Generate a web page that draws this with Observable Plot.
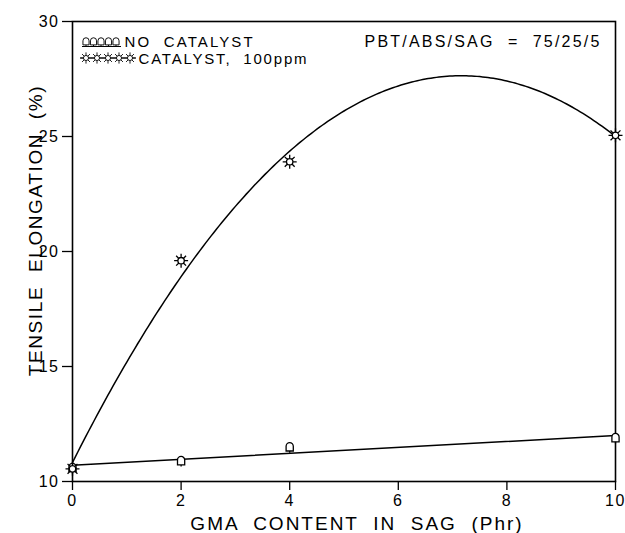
<!DOCTYPE html>
<html>
<head>
<meta charset="utf-8">
<script src="https://cdn.jsdelivr.net/npm/d3@7"></script>
<script src="https://cdn.jsdelivr.net/npm/@observablehq/plot@0.6"></script>
<style>
  body { margin: 0; background: #fff; }
  #chart { width: 625px; height: 533px; }
</style>
</head>
<body>
<div id="chart"></div>
<script>
// GMA content in SAG (phr) and measured tensile elongation (%)
const gmaContent = [0, 2, 4, 10];
const noCatalyst = [10.6, 10.9, 11.5, 11.9];
const catalyst100 = [10.55, 19.6, 23.9, 25.05];

const xTicks = [0, 2, 4, 6, 8, 10];
const yTicks = [10, 15, 20, 25, 30];

const seriesNames = ["NO  CATALYST", "CATALYST,  100ppm"];
const blendNote = "PBT/ABS/SAG  =  75/25/5";
const xTitle = "GMA  CONTENT  IN  SAG  (Phr)";
const yTitle = "TENSILE  ELONGATION  (%)";

const rowsNo = gmaContent.map((x, i) => ({ x, y: noCatalyst[i] }));
const rowsCat = gmaContent.map((x, i) => ({ x, y: catalyst100[i] }));

// least-squares quadratic through the catalyst points
function quadFit(xs, ys) {
  const S = [0, 0, 0, 0, 0], T = [0, 0, 0];
  xs.forEach((x, i) => {
    let p = 1;
    for (let k = 0; k < 5; k++) {
      S[k] += p;
      if (k < 3) T[k] += p * ys[i];
      p *= x;
    }
  });
  const A = [
    [S[0], S[1], S[2], T[0]],
    [S[1], S[2], S[3], T[1]],
    [S[2], S[3], S[4], T[2]]
  ];
  for (let i = 0; i < 3; i++)
    for (let j = i + 1; j < 3; j++) {
      const f = A[j][i] / A[i][i];
      for (let k = i; k < 4; k++) A[j][k] -= f * A[i][k];
    }
  const c = [0, 0, 0];
  for (let i = 2; i >= 0; i--) {
    let s = A[i][3];
    for (let k = i + 1; k < 3; k++) s -= A[i][k] * c[k];
    c[i] = s / A[i][i];
  }
  return c;
}
const coef = quadFit(gmaContent, catalyst100);
const [x0, x1] = d3.extent(gmaContent);
const catalystCurve = d3.range(x0, x1 + 1e-9, (x1 - x0) / 200)
  .map(x => ({ x, y: coef[0] + coef[1] * x + coef[2] * x * x }));

// marker shapes: a small arch for the uncatalysed series, a rayed sun for the catalysed one
const archSymbol = {
  draw(ctx) {
    const w = 3.6;
    ctx.moveTo(-w, 4);
    ctx.lineTo(-w, -0.8);
    ctx.arc(0, -0.8, w, Math.PI, 0);
    ctx.lineTo(w, 4);
    ctx.closePath();
    ctx.moveTo(0, 4);
    ctx.lineTo(0, 5.8);
  }
};
const sunSymbol = {
  draw(ctx) {
    const r = 3.2, R = 7;
    ctx.moveTo(r, 0);
    ctx.arc(0, 0, r, 0, 2 * Math.PI);
    for (let k = 0; k < 8; k++) {
      const a = k * Math.PI / 4;
      ctx.moveTo(Math.cos(a) * r, Math.sin(a) * r);
      ctx.lineTo(Math.cos(a) * R, Math.sin(a) * R);
    }
  }
};

const font = "'Liberation Sans', Arial, sans-serif";

const chart = Plot.plot({
  width: 625,
  height: 533,
  marginLeft: 72,
  marginRight: 10,
  marginTop: 21,
  marginBottom: 52,
  style: { fontFamily: font, fontSize: "16px", color: "#000", background: "#fff", overflow: "visible" },
  x: { domain: [0, 10] },
  y: { domain: [10, 30] },
  marks: [
    Plot.frame({ stroke: "#000", strokeWidth: 1.6 }),
    Plot.axisX({ ticks: xTicks, tickSize: 9, tickPadding: 4, label: null, stroke: "#000", strokeWidth: 1.3, fontSize: 16 }),
    Plot.axisY({ ticks: yTicks, tickSize: 10, tickPadding: 3, label: null, stroke: "#000", strokeWidth: 1.3, fontSize: 16 }),
    Plot.text([xTitle], {
      frameAnchor: "bottom", textAnchor: "middle", lineAnchor: "middle",
      dx: 13, dy: 42, fontSize: 19, fill: "#000"
    }),
    Plot.text([yTitle], {
      frameAnchor: "left", textAnchor: "middle", lineAnchor: "middle",
      dx: -37, dy: -21, rotate: -90, fontSize: 19, fill: "#000"
    }),
    Plot.linearRegressionY(rowsNo, { x: "x", y: "y", ci: 0, stroke: "#000", strokeWidth: 1.5 }),
    Plot.line(catalystCurve, { x: "x", y: "y", stroke: "#000", strokeWidth: 1.5 }),
    Plot.dot(rowsNo, { x: "x", y: "y", symbol: archSymbol, fill: "#fff", stroke: "#000", strokeWidth: 1.3 }),
    Plot.dot(rowsCat, { x: "x", y: "y", symbol: sunSymbol, fill: "#fff", stroke: "#000", strokeWidth: 1.3 }),
    Plot.text([seriesNames[0]], {
      frameAnchor: "top-left", textAnchor: "start", lineAnchor: "middle",
      dx: 52, dy: 20.5, fontSize: 15, fill: "#000"
    }),
    Plot.text([seriesNames[1]], {
      frameAnchor: "top-left", textAnchor: "start", lineAnchor: "middle",
      dx: 66, dy: 37.5, fontSize: 15, fill: "#000"
    }),
    Plot.text([blendNote], {
      frameAnchor: "top-right", textAnchor: "end", lineAnchor: "middle",
      dx: -14, dy: 20.5, fontSize: 16, fill: "#000"
    })
  ]
});

document.getElementById("chart").appendChild(chart);

// the lettering is a wide, evenly spaced plotter face
const svg = d3.select(chart);
const spacing = new Map([
  [xTitle, 2.0], [yTitle, 1.6],
  [seriesNames[0], 2.1], [seriesNames[1], 1.8], [blendNote, 2.2]
]);
svg.selectAll("text").each(function () {
  const t = this.textContent;
  const ls = spacing.has(t) ? spacing.get(t) : (/^\d+$/.test(t) ? 1.5 : 0);
  if (ls) d3.select(this).attr("letter-spacing", ls).style("letter-spacing", `${ls}px`);
});

// legend line samples: five markers strung along a short segment
const legend = svg.append("g").attr("stroke", "#000").attr("fill", "#fff").attr("stroke-width", 1.1);
const archPath = d3.symbol(archSymbol)();
const sunPath = d3.symbol(sunSymbol)();
legend.append("line").attr("x1", 82).attr("x2", 121).attr("y1", 46.5).attr("y2", 46.5);
for (let i = 0; i < 5; i++) {
  legend.append("path").attr("d", archPath)
    .attr("transform", `translate(${86 + i * 7.5},41.5) scale(0.85)`);
}
legend.append("line").attr("x1", 80).attr("x2", 136).attr("y1", 58).attr("y2", 58);
for (let i = 0; i < 5; i++) {
  legend.append("path").attr("d", sunPath)
    .attr("transform", `translate(${86 + i * 11},58) scale(0.8)`);
}
</script>
</body>
</html>
